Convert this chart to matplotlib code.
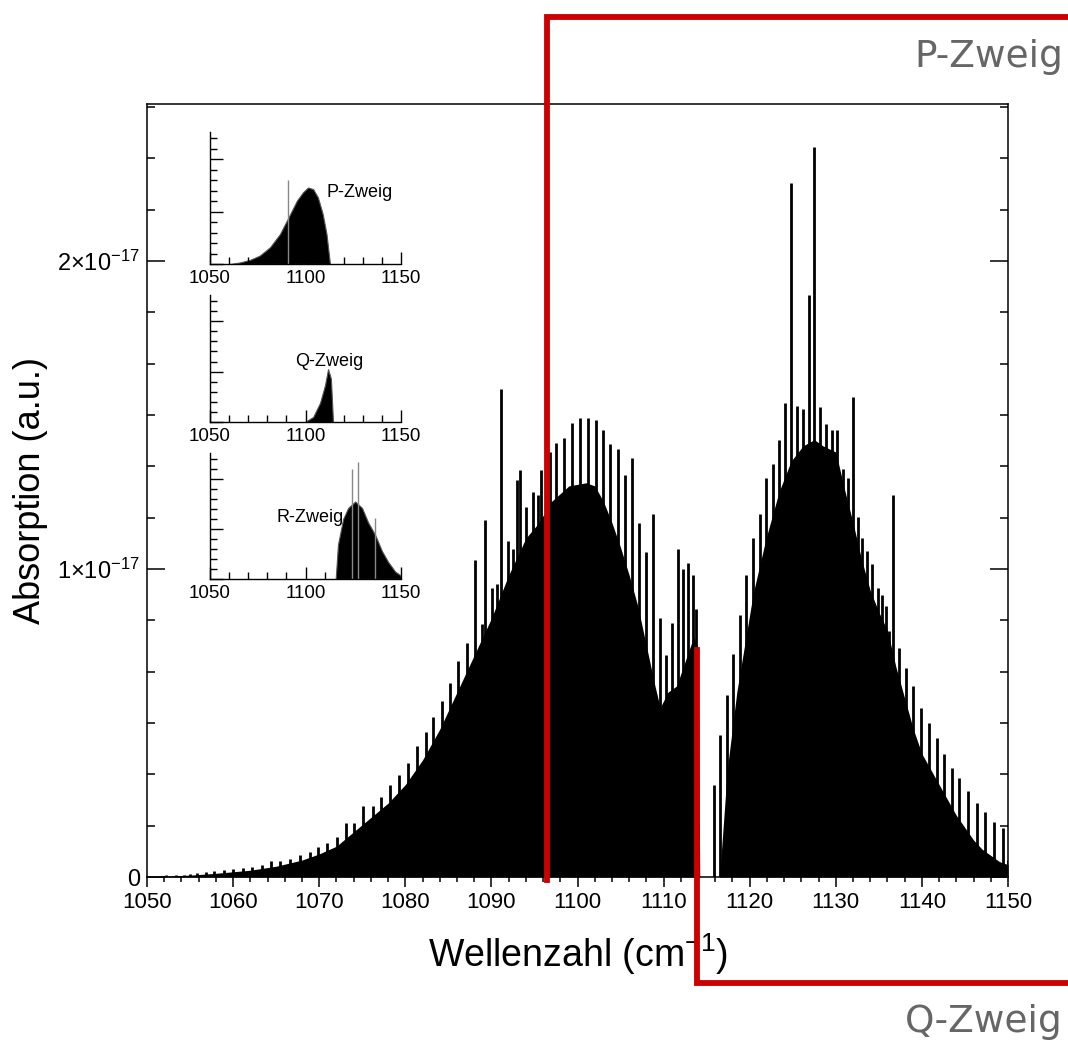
import matplotlib
matplotlib.use('Agg')
import matplotlib.pyplot as plt
from matplotlib.ticker import MultipleLocator, FixedLocator
from matplotlib.transforms import blended_transform_factory

plt.rcParams['font.family'] = ['Liberation Sans', 'DejaVu Sans']
plt.rcParams['mathtext.fontset'] = 'custom'
plt.rcParams['mathtext.rm'] = 'Liberation Sans'
plt.rcParams['mathtext.it'] = 'Liberation Sans:italic'

scale = 1e-17  # intensities below are in units of 1e-17

# single rotational lines that stick out of the band (cm^-1, intensity)
line_pos = [1052.2, 1053.4, 1054.3, 1055.0, 1055.8, 1056.8, 1057.8, 1058.9, 1060.0, 1061.2,
            1062.2, 1063.4, 1064.4, 1065.5, 1066.6, 1067.8, 1068.9, 1069.9, 1070.9, 1072.1,
            1073.1, 1074.0, 1075.1, 1076.2, 1077.2, 1078.2, 1079.3, 1080.3, 1081.4, 1082.4,
            1083.2, 1084.3, 1085.2, 1086.1, 1087.2, 1088.1, 1088.9, 1089.2, 1090.1, 1090.7,
            1091.1, 1091.9, 1092.5, 1093.0, 1093.3, 1094.0, 1094.8, 1095.4, 1095.8, 1096.8,
            1097.5, 1098.4, 1099.4, 1100.3, 1101.2, 1102.1, 1103.0, 1103.8, 1104.7, 1105.5,
            1106.3, 1107.1, 1107.9, 1108.8, 1109.6, 1110.3, 1111.0, 1111.7, 1112.3, 1112.8,
            1113.4, 1113.8, 1115.9, 1116.6, 1117.4, 1118.1, 1118.9, 1119.6, 1120.4, 1121.2,
            1121.9, 1122.7, 1123.4, 1124.1, 1124.8, 1125.5, 1126.2, 1126.9, 1127.5, 1128.2,
            1128.9, 1129.6, 1130.1, 1130.8, 1131.4, 1132.0, 1132.6, 1133.0, 1133.6, 1134.2,
            1134.9, 1135.4, 1135.8, 1136.2, 1136.6, 1137.3, 1138.1, 1139.0, 1139.9, 1140.8,
            1141.7, 1142.6, 1143.5, 1144.3, 1145.4, 1146.4, 1147.3, 1148.4, 1149.4, 1150.0]
line_int = [0.006, 0.006, 0.008, 0.010, 0.013, 0.017, 0.020, 0.023, 0.025, 0.028,
            0.033, 0.039, 0.053, 0.053, 0.060, 0.071, 0.082, 0.097, 0.110, 0.13,
            0.175, 0.175, 0.23, 0.23, 0.26, 0.30, 0.33, 0.37, 0.425, 0.47,
            0.52, 0.57, 0.63, 0.70, 0.76, 1.03, 0.82, 1.16, 0.94, 0.95,
            1.585, 1.09, 1.065, 1.29, 1.32, 1.20, 1.25, 1.24, 1.32, 1.38,
            1.41, 1.425, 1.475, 1.49, 1.49, 1.485, 1.45, 1.405, 1.39, 1.305,
            1.36, 1.15, 1.055, 1.18, 0.84, 0.72, 0.825, 1.065, 1.00, 1.02,
            0.98, 0.87, 0.30, 0.46, 0.59, 0.725, 0.85, 0.98, 1.10, 1.18,
            1.295, 1.34, 1.42, 1.54, 2.255, 1.53, 1.52, 1.89, 2.37, 1.525,
            1.47, 1.45, 1.45, 1.325, 1.295, 1.56, 1.17, 1.10, 1.06, 1.015,
            0.94, 0.915, 0.88, 0.80, 1.24, 0.745, 0.68, 0.62, 0.55, 0.50,
            0.45, 0.40, 0.355, 0.32, 0.28, 0.24, 0.21, 0.18, 0.16, 0.055]

# dense part of the band (unresolved lines)
band_pos = [1050, 1052, 1055, 1058, 1062, 1065, 1068, 1070, 1072, 1075,
            1078, 1080, 1082, 1084, 1085, 1086, 1087, 1088, 1090, 1092,
            1094, 1095.5, 1097, 1099, 1101, 1102, 1103, 1104, 1105, 1106,
            1107, 1108, 1109, 1109.6, 1110.5, 1111.5, 1112.5, 1113.5, 1114.0, 1114.2,
            1116.5, 1117.4, 1118.5, 1120.4, 1121.9, 1123.4, 1124.8, 1126.2, 1127.5, 1128.5,
            1130.0, 1131.0, 1132.0, 1133.0, 1134.0, 1135.0, 1136.0, 1137.0, 1138.0, 1139.0,
            1140.0, 1141.0, 1142.0, 1143.0, 1144.0, 1145.0, 1146.0, 1147.0, 1148.0, 1149.0,
            1150.0]
band_int = [0, 0.003, 0.006, 0.012, 0.022, 0.035, 0.055, 0.075, 0.10, 0.17,
            0.24, 0.30, 0.38, 0.48, 0.54, 0.60, 0.66, 0.72, 0.84, 0.98,
            1.10, 1.15, 1.22, 1.27, 1.28, 1.27, 1.22, 1.15, 1.07, 0.98,
            0.88, 0.75, 0.62, 0.55, 0.60, 0.62, 0.70, 0.78, 0.74, 0,
            0, 0.35, 0.60, 0.92, 1.10, 1.25, 1.35, 1.40, 1.42, 1.40,
            1.38, 1.26, 1.15, 1.03, 0.93, 0.86, 0.80, 0.68, 0.58, 0.48,
            0.40, 0.35, 0.30, 0.25, 0.20, 0.16, 0.12, 0.09, 0.07, 0.05,
            0.04]

# branch insets
p_pos = [1060.5, 1065.7, 1071.0, 1076.0, 1081.4, 1086.6, 1092.0, 1095.5, 1098.7, 1101.3,
         1104.0, 1106.5, 1109.0, 1111.0, 1112.8]
p_int = [0, 0.03, 0.08, 0.16, 0.32, 0.57, 0.955, 1.21, 1.37, 1.46,
         1.43, 1.27, 0.955, 0.57, 0]
p_spike_pos = [1091.0]
p_spike_int = [1.6]

q_pos = [1099.7, 1104.0, 1107.6, 1110.2, 1111.8, 1113.3, 1114.4]
q_int = [0, 0.10, 0.38, 0.73, 1.05, 0.86, 0]

r_pos = [1115.8, 1117.0, 1119.7, 1122.3, 1126.0, 1129.6, 1132.8, 1136.5, 1140.0, 1143.3,
         1146.9, 1149.5, 1150.0]
r_int = [0, 0.69, 1.20, 1.42, 1.55, 1.42, 1.13, 0.88, 0.56, 0.34,
         0.15, 0.08, 0.05]
r_spike_pos = [1124.5, 1127.5, 1136.5]
r_spike_int = [2.2, 2.35, 1.23]

W, H = 1068, 1047
fig = plt.figure(figsize=(W / 100, H / 100), dpi=100)
ax = fig.add_axes([147 / W, 1 - 877 / H, 861 / W, 773 / H])

ax.fill_between(band_pos, 0, [v * scale for v in band_int], color='black', lw=0)
ax.vlines(line_pos, 0, [v * scale for v in line_int], colors='black', linewidth=2.0)

ax.set_xlim(1050, 1150)
ax.set_ylim(0, 2.51 * scale)
ax.xaxis.set_major_locator(MultipleLocator(10))
ax.xaxis.set_minor_locator(MultipleLocator(2))
ax.yaxis.set_major_locator(FixedLocator([0, scale, 2 * scale]))
ax.yaxis.set_minor_locator(MultipleLocator(scale / 6))
ax.set_yticklabels(['0', r'$1{\times}10^{-17}$', r'$2{\times}10^{-17}$'])
ax.tick_params(axis='x', which='both', direction='out', top=False, labelsize=16, width=1.1, pad=4)
ax.tick_params(axis='x', which='major', length=7)
ax.tick_params(axis='x', which='minor', length=3.5)
ax.tick_params(axis='y', which='both', direction='in', left=True, right=True, labelsize=17, width=1.1, pad=5)
ax.tick_params(axis='y', which='major', length=13)
ax.tick_params(axis='y', which='minor', length=6)
for s in ax.spines.values():
    s.set_linewidth(1.1)
ax.set_xlabel(r'Wellenzahl (cm$^{-1}$)', fontsize=27, labelpad=13)
ax.set_ylabel('Absorption (a.u.)', fontsize=26, labelpad=7)


def branch_inset(bottom, height, pos, val, spike_pos, spike_val, label, lx, ly):
    a = fig.add_axes([210 / W, 1 - bottom / H, 191 / W, height / H])
    a.fill_between(pos, 0, [v * scale for v in val], color='black', lw=0.8, edgecolor='#555555')
    if spike_pos:
        a.vlines(spike_pos, 0, [v * scale for v in spike_val], colors='#888888', linewidth=1.0)
    a.set_xlim(1050, 1150)
    a.set_ylim(0, 2.52 * scale)
    a.spines['top'].set_visible(False)
    a.spines['right'].set_visible(False)
    for s in ('left', 'bottom'):
        a.spines[s].set_linewidth(1.0)
    a.xaxis.set_major_locator(MultipleLocator(50))
    a.xaxis.set_minor_locator(MultipleLocator(10))
    a.yaxis.set_major_locator(MultipleLocator(scale))
    a.yaxis.set_minor_locator(MultipleLocator(0.2 * scale))
    a.tick_params(which='both', direction='in', width=1.0, labelsize=13.5, pad=4, labelleft=False)
    a.tick_params(which='major', length=9)
    a.tick_params(which='minor', length=5)
    a.patch.set_alpha(0)
    a.text(lx, ly * scale, label, fontsize=13, ha='center', va='center')
    return a


branch_inset(264, 132, p_pos, p_int, p_spike_pos, p_spike_int, 'P-Zweig', 1128.5, 1.36)
branch_inset(422, 127, q_pos, q_int, [], [], 'Q-Zweig', 1112.3, 1.21)
branch_inset(579, 126, r_pos, r_int, r_spike_pos, r_spike_int, 'R-Zweig', 1102.4, 1.24)

# red brackets marking where the branches start
red = '#cc0000'
tr = blended_transform_factory(ax.transData, fig.transFigure)
ax.plot([1096.45, 1096.45, 1160], [1 - 880 / H, 1 - 17 / H, 1 - 17 / H], color=red, lw=4.2,
        transform=tr, clip_on=False, zorder=10, solid_joinstyle='miter')
ax.plot([1113.9, 1113.9, 1160], [1 - 650 / H, 1 - 983 / H, 1 - 983 / H], color=red, lw=4.2,
        transform=tr, clip_on=False, zorder=10, solid_joinstyle='miter')
fig.text(1063 / W, 1 - 57 / H, 'P-Zweig', ha='right', va='center', color='#666666',
         fontsize=27, family='DejaVu Sans')
fig.text(1063 / W, 1 - 1022 / H, 'Q-Zweig', ha='right', va='center', color='#666666',
         fontsize=27, family='DejaVu Sans')

fig.savefig('out.png', dpi=100)
